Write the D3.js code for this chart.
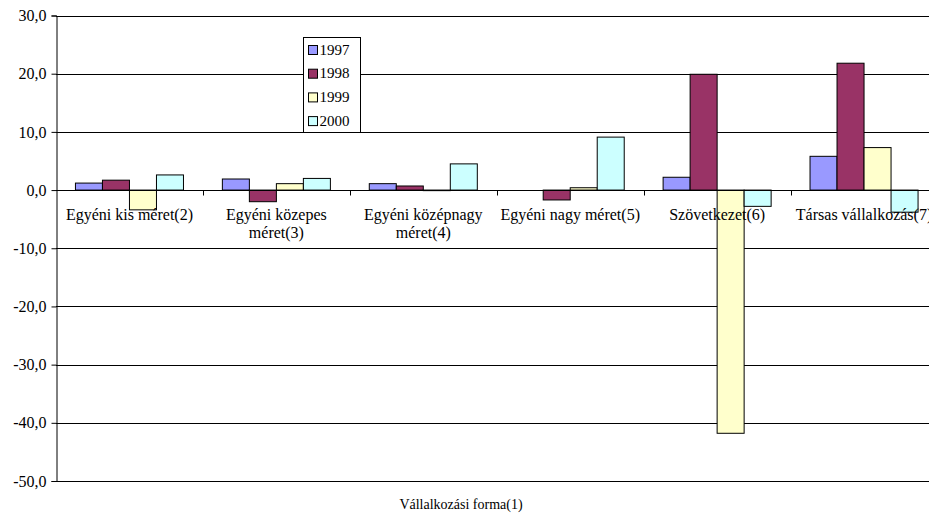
<!DOCTYPE html>
<html>
<head>
<meta charset="utf-8">
<script src="https://cdn.jsdelivr.net/npm/d3@7"></script>
<style>
  html, body { margin: 0; padding: 0; background: #fff; }
  svg { display: block; font-family: "Liberation Serif", "Times New Roman", serif; }
</style>
</head>
<body>
<svg id="chart" width="929" height="523"></svg>
<script>
// Categories (business forms) and yearly values
const categories = [
  ["Egyéni kis méret(2)"],
  ["Egyéni közepes", "méret(3)"],
  ["Egyéni középnagy", "méret(4)"],
  ["Egyéni nagy méret(5)"],
  ["Szövetkezet(6)"],
  ["Társas vállalkozás(7)"]
];
const years = ["1997", "1998", "1999", "2000"];
const v1997 = [1.2, 1.9, 1.1, 0.0, 2.2, 5.8];
const v1998 = [1.7, -2.0, 0.7, -1.7, 19.9, 21.8];
const v1999 = [-3.4, 1.1, -0.1, 0.4, -41.8, 7.3];
const v2000 = [2.6, 2.0, 4.5, 9.1, -2.8, -3.8];
const yTicks = [30, 20, 10, 0, -10, -20, -30, -40, -50];
const xTitle = "Vállalkozási forma(1)";

const series = [v1997, v1998, v1999, v2000];
const colors = ["#9999FF", "#993366", "#FFFFCC", "#CCFFFF"];

const svg = d3.select("#chart");
const plotLeft = 56, plotTop = 15.5, plotBottom = 481, plotRight = 937.5;

const x = d3.scaleBand().domain(d3.range(categories.length)).range([plotLeft, plotRight]).padding(0);
const xi = d3.scaleBand().domain(years).range([0, x.bandwidth()]).paddingInner(0).paddingOuter(0.72);
const y = d3.scaleLinear().domain([-50, 30]).range([plotBottom, plotTop]);
const fmt = d => d3.format(".1f")(d).replace(".", ",").replace("−", "-");

// horizontal gridlines
svg.append("g").selectAll("line").data(yTicks).join("line")
  .attr("x1", plotLeft).attr("x2", plotRight)
  .attr("y1", d => Math.round(y(d)) + 0.5).attr("y2", d => Math.round(y(d)) + 0.5)
  .attr("stroke", "#000").attr("stroke-width", 1);

// bars
const bars = svg.append("g");
years.forEach((yr, si) => {
  bars.append("g").selectAll("rect").data(series[si]).join("rect")
    .attr("x", (d, i) => x(i) + xi(yr))
    .attr("width", xi.bandwidth())
    .attr("y", d => y(Math.max(0, d)))
    .attr("height", d => Math.abs(y(d) - y(0)))
    .attr("fill", colors[si])
    .attr("stroke", "#000").attr("stroke-width", 1);
});

// zero line with category tick marks
const y0 = Math.round(y(0)) + 0.5;
svg.append("line").attr("x1", plotLeft).attr("x2", plotRight).attr("y1", y0).attr("y2", y0)
  .attr("stroke", "#000");
svg.append("g").selectAll("line").data(d3.range(1, categories.length + 1)).join("line")
  .attr("x1", i => Math.round(plotLeft + i * x.step()) + 0.5)
  .attr("x2", i => Math.round(plotLeft + i * x.step()) + 0.5)
  .attr("y1", y0).attr("y2", y0 + 5)
  .attr("stroke", "#000");

// y axis
const yAxis = svg.append("g").attr("transform", `translate(${plotLeft + 0.5},0)`)
  .call(d3.axisLeft(y).tickValues(yTicks).tickFormat(fmt).tickSize(5).tickPadding(5));
yAxis.select(".domain").attr("stroke", "#000");
yAxis.selectAll("line").attr("stroke", "#000");
yAxis.selectAll("text").attr("font-size", 16).attr("font-family", "Liberation Serif").attr("fill", "#000");

// category labels
const lab = svg.append("g").attr("font-size", 16).attr("fill", "#000").attr("text-anchor", "middle");
categories.forEach((lines, i) => {
  const t = lab.append("text").attr("x", x(i) + x.bandwidth() / 2).attr("y", 220);
  lines.forEach((ln, k) => t.append("tspan").attr("x", x(i) + x.bandwidth() / 2).attr("dy", k ? 18 : 0).text(ln));
});

// axis title
svg.append("text").attr("x", 461).attr("y", 509).attr("text-anchor", "middle")
  .attr("font-size", 14).attr("fill", "#000").text(xTitle);

// legend
const lg = svg.append("g").attr("transform", "translate(303.5,37.5)");
lg.append("rect").attr("width", 57).attr("height", 95).attr("fill", "#fff").attr("stroke", "#000");
years.forEach((yr, i) => {
  const g = lg.append("g").attr("transform", `translate(5,${8 + i * 23.7})`);
  g.append("rect").attr("width", 9).attr("height", 9).attr("fill", colors[i]).attr("stroke", "#000");
  g.append("text").attr("x", 11).attr("y", 9).attr("font-size", 15).attr("fill", "#000").text(yr);
});
</script>
</body>
</html>
